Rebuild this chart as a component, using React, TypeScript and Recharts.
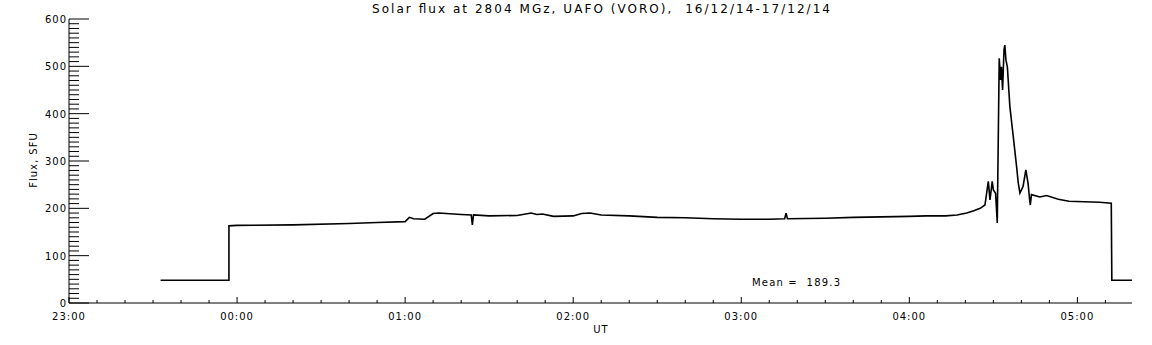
import { LineChart, Line, XAxis, YAxis } from 'recharts';

// minutes after 23:00 UT
const TIME_MIN = [
  32.7, 57.1, 57.1, 60, 80, 100, 110, 120, 121.5, 123, 127, 130, 132, 140, 143.6, 144, 144.4,
  150, 160, 165, 167, 169, 173, 180, 183, 186, 190, 200, 210, 220, 230, 240, 250, 255.5, 256,
  256.5, 270, 280, 290, 300, 306, 313, 317, 320.5, 323, 325.3, 327, 328.2, 328.8, 329.6, 330,
  330.8, 331.4, 332.1, 332.6, 332.9, 333.3, 333.8, 334.1, 334.5, 335, 335.9, 337.1, 338.3,
  338.9, 339.5, 340.6, 341.6, 342.4, 343, 343.2, 343.6, 346.6, 349, 353.2, 357, 367.9, 372.1,
  372.3, 379.5,
];
// flux, SFU
const FLUX = [
  48, 48, 163, 164, 165, 168, 170, 172, 181, 178, 177, 189, 190, 187, 186, 165, 186,
  184, 185, 190, 187, 188, 183, 184, 189, 190, 186, 184, 181, 180, 178, 177, 177, 178, 190,
  178, 179, 181, 182, 183, 184, 184, 186, 190, 195, 200, 207, 257, 218, 257, 239,
  232, 169, 517, 471, 499, 450, 535, 545, 513, 499, 415, 352, 288,
  253, 232, 246, 281, 253, 215, 207, 229, 224, 227, 219, 215, 213, 211,
  48, 48,
];

const X_TICKS = Array.from({ length: 38 }, (_, i) => i * 10);
const X_LABELS: Record<number, string> = {
  0: '23:00', 60: '00:00', 120: '01:00', 180: '02:00', 240: '03:00', 300: '04:00', 360: '05:00',
};
const Y_TICKS = Array.from({ length: 61 }, (_, i) => i * 10);
const Y_LABELS = [0, 100, 200, 300, 400, 500, 600];

const TITLE = 'Solar flux at 2804 MGz, UAFO (VORO),  16/12/14-17/12/14';
const MEAN_TEXT = 'Mean =  189.3';

const FONT = '"DejaVu Sans", sans-serif';

const chartData = TIME_MIN.map((t, i) => ({ t, flux: FLUX[i] }));

const BottomTick = ({ x, y, payload }: any) => {
  const major = payload.value % 60 === 0;
  return (
    <g>
      <line x1={x} x2={x} y1={y} y2={y - (major ? 6 : 3)} stroke="#000" />
      {major && (
        <text x={x} y={y + 17} textAnchor="middle" fontSize={10} letterSpacing={1} fontFamily={FONT} fill="#000">
          {X_LABELS[payload.value]}
        </text>
      )}
    </g>
  );
};

const TopTick = ({ x, y, payload }: any) => {
  const major = payload.value % 60 === 0;
  return <line x1={x} x2={x} y1={y} y2={y + (major ? 6 : 3)} stroke="#000" />;
};

const LeftTick = ({ x, y, payload }: any) => {
  const major = Y_LABELS.includes(payload.value);
  return (
    <g>
      <line x1={x} x2={x + (major ? 20 : 10)} y1={y} y2={y} stroke="#000" />
      {major && (
        <text x={x - 2} y={y + 4} textAnchor="end" fontSize={10} letterSpacing={1} fontFamily={FONT} fill="#000">
          {payload.value}
        </text>
      )}
    </g>
  );
};

const RightTick = ({ x, y, payload }: any) => {
  const major = Y_LABELS.includes(payload.value);
  return <line x1={x} x2={x - (major ? 20 : 10)} y1={y} y2={y} stroke="#000" />;
};

export default function App() {
  return (
    <div style={{ position: 'absolute', left: 0, top: 0, width: 1152, height: 345, background: '#fff' }}>
      <LineChart
        width={1152}
        height={345}
        data={chartData}
        margin={{ top: 19, right: 20, bottom: 12, left: 0 }}
      >
        <XAxis
          xAxisId="bottom"
          dataKey="t"
          type="number"
          domain={[0, 379.5]}
          allowDataOverflow
          ticks={X_TICKS}
          interval={0}
          tickSize={0}
          tickMargin={0}
          tickLine={false}
          tick={BottomTick}
          height={30}
          axisLine={{ stroke: '#000' }}
        />
        <XAxis
          xAxisId="top"
          orientation="top"
          dataKey="t"
          type="number"
          domain={[0, 379.5]}
          allowDataOverflow
          ticks={X_TICKS}
          interval={0}
          tickSize={0}
          tickMargin={0}
          tickLine={false}
          tick={TopTick}
          height={0}
          axisLine={{ stroke: '#000' }}
        />
        <YAxis
          yAxisId="left"
          type="number"
          domain={[0, 600]}
          allowDataOverflow
          ticks={Y_TICKS}
          interval={0}
          tickSize={0}
          tickMargin={0}
          tickLine={false}
          tick={LeftTick}
          width={69}
          axisLine={{ stroke: '#000' }}
        />
        <YAxis
          yAxisId="right"
          orientation="right"
          type="number"
          domain={[0, 600]}
          allowDataOverflow
          ticks={Y_TICKS}
          interval={0}
          tickSize={0}
          tickMargin={0}
          tickLine={false}
          tick={RightTick}
          width={0}
          axisLine={{ stroke: '#000' }}
        />
        <Line
          xAxisId="bottom"
          yAxisId="left"
          dataKey="flux"
          type="linear"
          stroke="#000"
          strokeWidth={1.6}
          dot={false}
          isAnimationActive={false}
        />
        <Line
          xAxisId="top"
          yAxisId="right"
          dataKey="flux"
          type="linear"
          stroke="none"
          dot={false}
          legendType="none"
          isAnimationActive={false}
        />
      </LineChart>
      <svg width={1152} height={345} style={{ position: 'absolute', left: 0, top: 0, pointerEvents: 'none' }}>
        <text
          x={372}
          y={13}
          fontSize={12}
          fontFamily={FONT}
          textLength={458}
          lengthAdjust="spacing"
          fill="#000"
          style={{ whiteSpace: 'pre' }}
        >
          {TITLE}
        </text>
        <text
          x={752}
          y={286}
          fontSize={10}
          fontFamily={FONT}
          textLength={88}
          lengthAdjust="spacing"
          fill="#000"
          style={{ whiteSpace: 'pre' }}
        >
          {MEAN_TEXT}
        </text>
        <text x={601} y={333} fontSize={10} fontFamily={FONT} textAnchor="middle" letterSpacing={1} fill="#000">
          UT
        </text>
        <text
          x={37}
          y={160}
          fontSize={10}
          fontFamily={FONT}
          textAnchor="middle"
          letterSpacing={1}
          transform="rotate(-90 37 160)"
          fill="#000"
        >
          Flux, SFU
        </text>
      </svg>
    </div>
  );
}
